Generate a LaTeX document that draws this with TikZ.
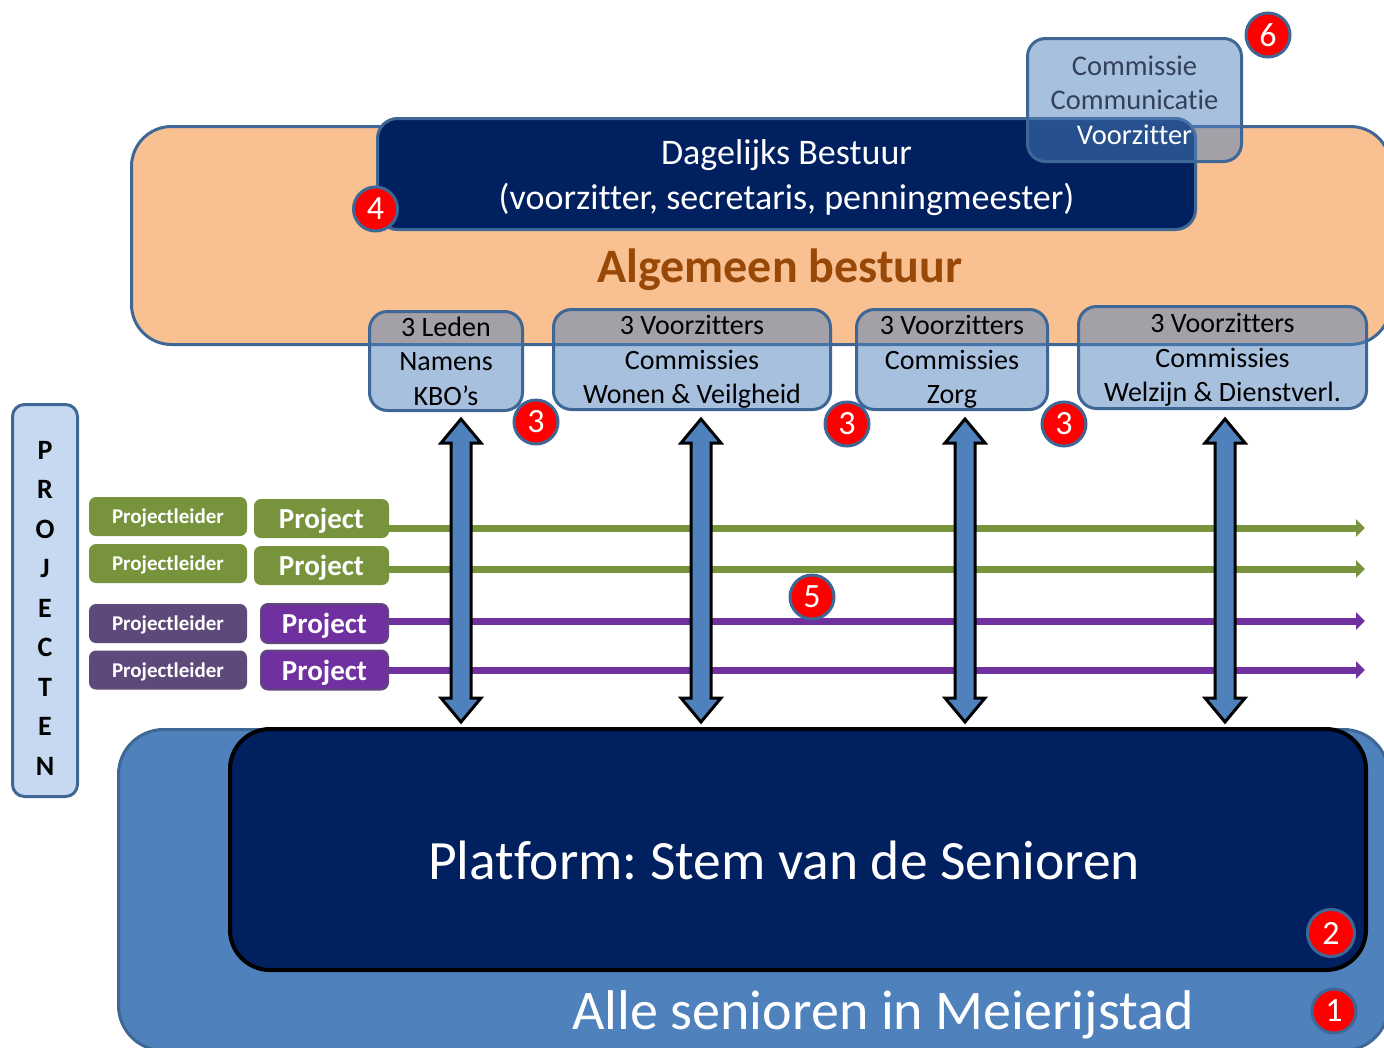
\documentclass[tikz,border=0pt]{standalone}
\usepackage{fontspec}
\setmainfont{Carlito}[Ligatures=CommonOff]
\usetikzlibrary{calc,arrows.meta}
\frenchspacing

\definecolor{perzik}{HTML}{F9C091}
\definecolor{rand}{HTML}{3E6796}
\definecolor{marine}{HTML}{002060}
\definecolor{accent}{HTML}{4F81BD}
\definecolor{bruin}{HTML}{984807}
\definecolor{groen}{HTML}{77933C}
\definecolor{paars}{HTML}{7030A0}
\definecolor{paarsdonker}{HTML}{5F497A}
\definecolor{lichtblauw}{HTML}{C6D9F1}
\definecolor{grijstekst}{HTML}{33425A}

% dubbele blokpijl tussen twee punten (boven, onder)
\newcommand{\dubbelpijl}[2]{%
  \draw[pijl] let \p1=(#1), \p2=(#2) in
    (\x1,\y1) -- (\x1+20pt,\y1-24pt) -- (\x1+10pt,\y1-24pt)
    -- (\x2+10pt,\y2+24pt) -- (\x2+20pt,\y2+24pt) -- (\x2,\y2)
    -- (\x2-20pt,\y2+24pt) -- (\x2-10pt,\y2+24pt)
    -- (\x1-10pt,\y1-24pt) -- (\x1-20pt,\y1-24pt) -- cycle;}

\begin{document}
\begin{tikzpicture}
    [
    x=1pt, y=-1pt
    , ab/.style = {draw=rand, line width=3pt, fill=perzik, rounded corners=40pt}
    , db/.style = {draw=rand, line width=3pt, fill=marine, rounded corners=20pt}
    , comm/.style = {draw=rand, line width=3pt, fill=accent, fill opacity=0.5, text opacity=1,
        rounded corners=18pt, align=center, inner sep=0pt, text depth=0pt,
        font=\fontsize{28}{34.5}\selectfont}
    , leider/.style = {fill=#1, rounded corners=7pt, text=white, minimum width=158pt,
        minimum height=39pt, inner sep=0pt, text depth=0pt, font=\bfseries\fontsize{21}{21}\selectfont}
    , project/.style = {fill=#1, rounded corners=7pt, text=white, minimum height=39pt,
        inner sep=0pt, text depth=0pt, font=\bfseries\fontsize{29}{29}\selectfont}
    , lijn/.style = {draw=#1, line width=7pt, -{Triangle[length=9pt,width=17pt]}}
    , pijl/.style = {draw=black, line width=3pt, fill=accent, line join=miter}
    , badge/.style = {circle, fill=red, draw=rand, line width=3pt, text=white, inner sep=0pt,
        minimum size=44pt, font=\fontsize{34}{34}\selectfont}
    ]
\useasboundingbox (0,0) rectangle (1384,1047);
\clip (0,0) rectangle (1384,1047);

% algemeen bestuur
\node[ab, minimum width=1259pt, minimum height=218pt] (ab) at (761,235.5) {};
\node[db, minimum width=818pt, minimum height=111pt, text=white, align=center, text depth=0pt,
      font=\fontsize{36}{45}\selectfont] (db) at (786.5,174)
      {Dagelijks Bestuur\\(voorzitter, secretaris, penningmeester)};
\node[comm, minimum width=214pt, minimum height=123pt, font=\fontsize{28.5}{34.5}\selectfont] (comcom) at (1134.5,100)
      {\textcolor{grijstekst}{Commissie}\\\textcolor{grijstekst}{Communicatie}\\\textcolor{white}{Voorzitter}};
\node[text=bruin, text depth=0pt, font=\bfseries\fontsize{48}{48}\selectfont] (abtekst) at (780,266) {Algemeen bestuur};

\node[comm, minimum width=153pt, minimum height=99pt] (kbo) at (446,361)
      {3 Leden\\Namens\\KBO’s};
\node[comm, minimum width=277pt, minimum height=100pt] (wonen) at (692,359.5)
      {3 Voorzitters\\Commissies\\Wonen \& Veilgheid};
\node[comm, minimum width=191pt, minimum height=100pt] (zorg) at (952,359.5)
      {3 Voorzitters\\Commissies\\Zorg};
\node[comm, minimum width=288pt, minimum height=102pt] (welzijn) at (1222.5,357.5)
      {3 Voorzitters\\Commissies\\Welzijn \& Dienstverl.};

% projecten
\node[draw=rand, line width=3pt, fill=lichtblauw, rounded corners=12pt,
      minimum width=65pt, minimum height=392pt] (projbalk) at (45,600.5) {};
\node[align=center, font=\bfseries\fontsize{28}{39.5}\selectfont] (projtekst) at (45,608)
      {P\\R\\O\\J\\E\\C\\T\\E\\N};

\node[leider=groen] (pl1) at (168,516.5) {Projectleider};
\node[leider=groen] (pl2) at (168,563.5) {Projectleider};
\node[leider=paarsdonker] (pl3) at (168,623.5) {Projectleider};
\node[leider=paarsdonker] (pl4) at (168,670) {Projectleider};

\node[project=groen, minimum width=135pt] (pr1) at (321.5,518.5) {Project};
\node[project=groen, minimum width=135pt] (pr2) at (321.5,565.5) {Project};
\node[project=paars, draw=paarsdonker, line width=2pt, minimum width=127pt] (pr3) at (324.5,623.5) {Project};
\node[project=paars, draw=paarsdonker, line width=2pt, minimum width=127pt] (pr4) at (324.5,670) {Project};

\coordinate (rechts) at (1365,0);
\coordinate (s1) at ([yshift=-9.5pt]pr1.east);
\coordinate (s2) at ([yshift=-3.5pt]pr2.east);
\coordinate (s3) at ([yshift=2.5pt]pr3.east);
\draw[lijn=groen] (s1) -- (s1 -| rechts);
\draw[lijn=groen] (s2) -- (s2 -| rechts);
\draw[lijn=paars] (s3) -- (s3 -| rechts);
\draw[lijn=paars] (pr4.east) -- (pr4.east -| rechts);

% platform
\node[draw=rand, line width=3pt, fill=accent, rounded corners=45pt,
      minimum width=1270pt, minimum height=321pt] (senioren) at (753.5,890) {};
\node[text=white, text depth=0pt, font=\fontsize{56}{56}\selectfont] (sentekst) at (883,1010) {Alle senioren in Meierijstad};
\node[draw=black, line width=4pt, fill=marine, rounded corners=40pt,
      minimum width=1136pt, minimum height=241pt] (platform) at (798,849.5) {};
\node[text=white, font=\fontsize{55.5}{55.5}\selectfont] (plattekst) at (784,860) {Platform: Stem van de Senioren};

% pijlen
\coordinate (t1) at (461,419);
\coordinate (t2) at (701,419);
\coordinate (t3) at (965,419);
\coordinate (t4) at (1225,419);
\coordinate (o1) at (461,722);
\dubbelpijl{t1}{t1 |- o1}
\dubbelpijl{t2}{t2 |- o1}
\dubbelpijl{t3}{t3 |- o1}
\dubbelpijl{t4}{t4 |- o1}

% nummers
\node[badge] (b6) at (1268,35) {6};
\node[badge] (b4) at (375.5,209) {4};
\node[badge] (b3a) at (536,422) {3};
\node[badge] (b3b) at (847,424) {3};
\node[badge] (b3c) at (1064,424) {3};
\node[badge] (b5) at (812,597) {5};
\node[badge, minimum size=47pt] (b2) at (1331,933) {2};
\node[badge] (b1) at (1334,1011) {1};
\end{tikzpicture}
\end{document}
